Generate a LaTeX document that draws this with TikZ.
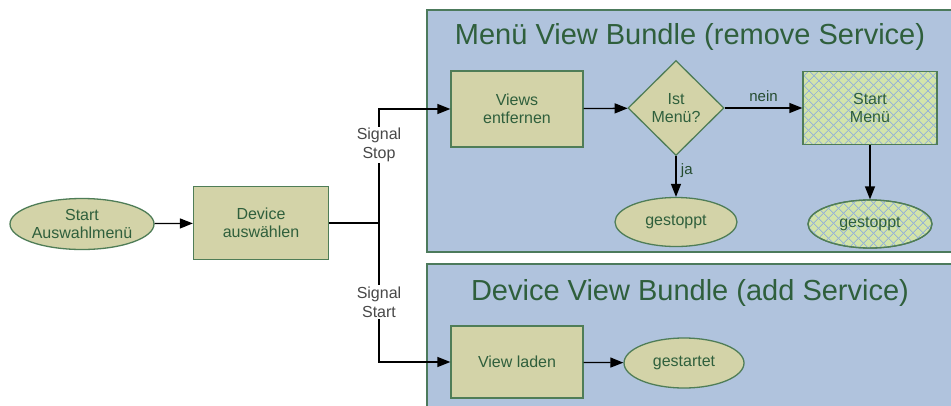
\documentclass[tikz,border=0pt]{standalone}
\usepackage{fontspec}
\setmainfont{Liberation Sans}
\usetikzlibrary{shapes.geometric,arrows.meta,patterns.meta}

\definecolor{bundlefill}{HTML}{B0C3DD}
\definecolor{bundleborder}{HTML}{4C7A5C}
\definecolor{boxfill}{HTML}{D3D3A8}
\definecolor{boxborder}{HTML}{4F7D57}
\definecolor{textgreen}{HTML}{2F5F3C}
\definecolor{hatchfill}{HTML}{D3E4AA}
\definecolor{hatchline}{HTML}{98B4D4}
\definecolor{signalgrey}{HTML}{484848}

\begin{document}
\begin{tikzpicture}[x=1pt,y=-1pt,
  every node/.style={font=\fontsize{16}{18}\selectfont, text=textgreen, align=center},
  stepbox/.style={draw=boxborder, line width=1.3pt, fill=boxfill, inner sep=0},
  endpoint/.style={ellipse, draw=boxborder, line width=1.3pt, fill=boxfill, inner sep=0},
  decision/.style={diamond, draw=boxborder, line width=1.3pt, fill=boxfill, inner sep=0},
  hatched/.style={fill=hatchfill,
    postaction={pattern={Lines[angle=45,distance=6.9pt,line width=0.9pt]}, pattern color=hatchline},
    postaction={pattern={Lines[angle=-45,distance=6.9pt,line width=0.9pt]}, pattern color=hatchline},
    postaction={draw=boxborder, line width=1.3pt}},
  bundle/.style={draw=bundleborder, line width=1.5pt, fill=bundlefill},
  bundletitle/.style={font=\fontsize{29}{32}\selectfont, text=textgreen},
  link/.style={draw=black, line width=1.3pt},
  flow/.style={link, -{Triangle[length=13pt,width=10pt]}},
  signal/.style={fill=white, text=signalgrey, inner sep=1.5pt, font=\fontsize{16}{19}\selectfont},
  edgelabel/.style={text=textgreen!80!black, font=\fontsize{15}{18}\selectfont}
]
\useasboundingbox (0,0) rectangle (951,405);
\clip (0,0) rectangle (951,405);

% service bundles
\fill[white] (0,0) rectangle (951,405);
\draw[bundle] (427,10) rectangle (965,252);
\draw[bundle] (427,264) rectangle (965,420);
\node[bundletitle] (menutitle) at (690,37) {Menü View Bundle (remove Service)};
\node[bundletitle] (devtitle) at (690,293) {Device View Bundle (add Service)};

% selection
\node[endpoint, minimum width=144pt, minimum height=51pt] (start) at (82,224) {Start\\Auswahlmenü};
\node[stepbox, minimum width=135pt, minimum height=73pt] (dev) at (261,223) {Device\\auswählen};

% menu bundle
\node[stepbox, minimum width=132pt, minimum height=76pt] (views) at (517,109) {Views\\entfernen};
\node[decision, minimum width=96pt, minimum height=95pt] (ist) at (676,108) {Ist\\Menü?};
\node[stepbox, hatched, minimum width=134pt, minimum height=73pt] (startmenu) at (870,108) {Start\\Menü};
\node[endpoint, minimum width=122pt, minimum height=49pt] (stop1) at (676,222) {gestoppt};
\node[endpoint, hatched, minimum width=124pt, minimum height=48pt] (stop2) at (870,224) {gestoppt};

% device bundle
\node[stepbox, minimum width=132pt, minimum height=72pt] (load) at (517,362) {View laden};
\node[endpoint, minimum width=120pt, minimum height=50pt] (started) at (684,363) {gestartet};

% connectors
\coordinate (split) at (379,223);
\draw[flow] (start) -- (dev);
\draw[link] (dev.east) -- (split);
\draw[flow] (split) |- (views.west);
\draw[flow] (split) |- (load.west);
\draw[flow] (views) -- (ist);
\draw[flow] (ist) -- (startmenu) node[edgelabel, midway, above=2pt] (nein) {nein};
\draw[flow] (ist) -- (stop1) node[edgelabel, pos=0.35, right=1pt] (ja) {ja};
\draw[flow] (startmenu) -- (stop2);
\draw[flow] (load) -- (started);

\node[signal] (sigstop) at (379,145) {Signal\\Stop};
\node[signal] (sigstart) at (379,302) {Signal\\Start};
\end{tikzpicture}
\end{document}
